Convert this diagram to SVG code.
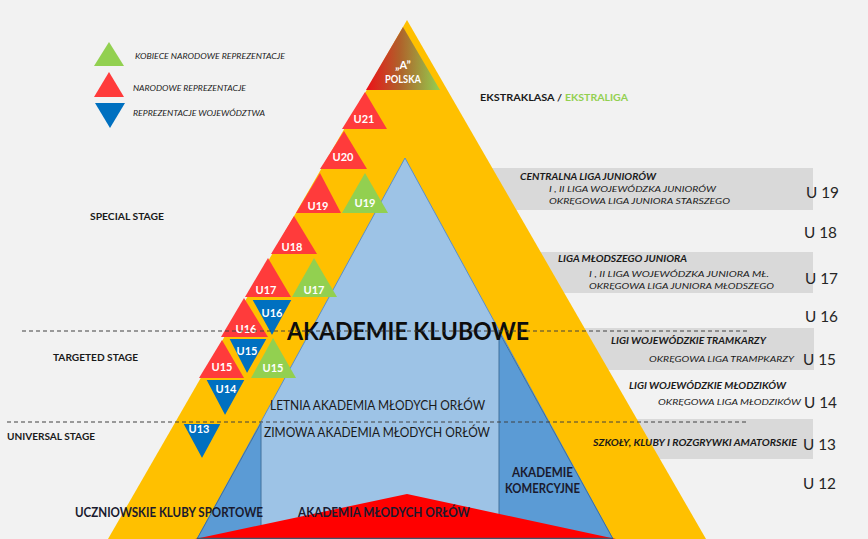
<svg xmlns="http://www.w3.org/2000/svg" width="868" height="539" viewBox="0 0 868 539">
<defs>
<linearGradient id="gA" x1="0" y1="0" x2="1" y2="0">
<stop offset="0" stop-color="#ee1018"/>
<stop offset="0.45" stop-color="#b0602a"/>
<stop offset="1" stop-color="#92d050"/>
</linearGradient>
<style>
text{font-family:Lato,"Liberation Sans",Arial,sans-serif}
.tl{font-weight:bold;fill:#ffffff;font-size:11px;text-anchor:middle}
.red{fill:#ff3b3b}
.grn{fill:#92d050}
.blu{fill:#0070c0;stroke:#ffc000;stroke-width:2;stroke-linejoin:miter}
.band{fill:#d9d9d9}
.rt{font-size:8.5px;font-style:italic;fill:#1a1a1a}
.rb{font-weight:bold}
.u{font-size:15px;fill:#262626}
.stage{font-size:10px;font-weight:bold;fill:#1a1a1a}
.leg{font-size:7.5px;font-style:italic;fill:#1a1a1a}
.mid{font-size:12.5px;fill:#1a1a1a}
.midb{font-size:12.5px;font-weight:bold;fill:#1a1a2e}
.dash{stroke:#404040;stroke-width:1;stroke-dasharray:4 3;fill:none}
</style>
</defs>
<rect width="868" height="539" fill="#f2f2f2"/>

<g id="bands">
<rect class="band" x="470" y="168" width="343" height="42"/>
<rect class="band" x="470" y="252" width="343" height="41"/>
<rect class="band" x="470" y="328" width="344" height="42"/>
<rect class="band" x="470" y="419" width="343" height="40"/>
</g>

<g id="pyramid">
<polygon points="407,20 108,539 706,539" fill="#ffc000"/>
<polygon points="405,158 197,539 613,539" fill="#9dc3e6" stroke="#5b8fc7" stroke-width="1"/>
<polygon points="261,423 261,539 197,539" fill="#5b9bd5" stroke="#41719c" stroke-width="1"/>
<polygon points="499,332 499,539 613,539" fill="#5b9bd5" stroke="#41719c" stroke-width="1"/>
<polygon points="407,494 195,539 616,539" fill="#ff0000"/>
<line x1="197" y1="538.5" x2="613" y2="538.5" stroke="#44546a" stroke-width="1.5"/>
</g>

<g id="node-a-polska">
<polygon points="403,27 366,90 440,90" fill="url(#gA)"/>
<text class="tl" x="403" y="69" font-size="10">„A”</text>
<text class="tl" x="403" y="83" font-size="10" textLength="36" lengthAdjust="spacingAndGlyphs">POLSKA</text>
</g>

<g id="node-u21"><polygon class="red" points="365,92 342,129 387,129"/><text class="tl" x="364" y="123">U21</text></g>
<g id="node-u20"><polygon class="red" points="344,131 320,169 367,169"/><text class="tl" x="343" y="161">U20</text></g>
<g id="node-u19r"><polygon class="red" points="320,173 296,213 341,213"/><text class="tl" x="318" y="210">U19</text></g>
<g id="node-u19g"><polygon class="grn" points="365,173 342,213 388,213"/><text class="tl" x="365" y="207">U19</text></g>
<g id="node-u18"><polygon class="red" points="294,216 271,254 317,254"/><text class="tl" x="292" y="251">U18</text></g>
<g id="node-u17r"><polygon class="red" points="268,258 245,297 291,297"/><text class="tl" x="266" y="294">U17</text></g>
<g id="node-u17g"><polygon class="grn" points="314,258 292,297 337,297"/><text class="tl" x="314" y="294">U17</text></g>
<g id="node-u16r"><polygon class="red" points="244,298 221,337 268,337"/><text class="tl" x="246" y="333">U16</text></g>
<g id="node-u16b"><polygon class="blu" points="251,299 293,299 272,337"/><text class="tl" x="272" y="317">U16</text></g>
<g id="node-u15r"><polygon class="red" points="222,340 199,378 244,378"/><text class="tl" x="222" y="371">U15</text></g>
<g id="node-u15g"><polygon class="grn" points="273,338 251,378 296,378"/><text class="tl" x="273" y="372">U15</text></g>
<g id="node-u15b"><polygon class="blu" points="228,338 268,338 247,375"/><text class="tl" x="247" y="355">U15</text></g>
<g id="node-u14"><polygon class="blu" points="205,379 246,379 225,417"/><text class="tl" x="226" y="393">U14</text></g>
<g id="node-u13"><polygon class="blu" points="182,423 222,423 202,460" stroke="none"/><text class="tl" x="199" y="433">U13</text></g>

<g id="legend">
<polygon class="grn" points="109,42 94,66 124,66"/>
<polygon class="red" points="109,72 94,97 124,97"/>
<polygon points="95,103 125,103 110,128" fill="#0070c0"/>
<text class="leg" x="135" y="59" textLength="150" lengthAdjust="spacingAndGlyphs">KOBIECE NARODOWE REPREZENTACJE</text>
<text class="leg" x="133" y="91" textLength="113" lengthAdjust="spacingAndGlyphs">NARODOWE REPREZENTACJE</text>
<text class="leg" x="133" y="116" textLength="132" lengthAdjust="spacingAndGlyphs">REPREZENTACJE WOJEWÓDZTWA</text>
</g>

<g id="stages">
<text class="stage" x="90" y="220" textLength="74" lengthAdjust="spacingAndGlyphs">SPECIAL STAGE</text>
<text class="stage" x="53" y="361" textLength="85" lengthAdjust="spacingAndGlyphs">TARGETED STAGE</text>
<text class="stage" x="7" y="440" textLength="88" lengthAdjust="spacingAndGlyphs">UNIVERSAL STAGE</text>
</g>

<g id="academies">
<text x="287" y="340" font-size="24" font-weight="bold" fill="#0d0d0d" textLength="242" lengthAdjust="spacingAndGlyphs">AKADEMIE KLUBOWE</text>
<text class="mid" x="270" y="409.5" textLength="215" lengthAdjust="spacingAndGlyphs">LETNIA AKADEMIA MŁODYCH ORŁÓW</text>
<text class="mid" x="264" y="436.5" textLength="226" lengthAdjust="spacingAndGlyphs">ZIMOWA AKADEMIA MŁODYCH ORŁÓW</text>
<text class="midb" x="512" y="476.5" textLength="61" lengthAdjust="spacingAndGlyphs">AKADEMIE</text>
<text class="midb" x="505" y="492.5" textLength="75" lengthAdjust="spacingAndGlyphs">KOMERCYJNE</text>
<text class="midb" x="298" y="516.5" textLength="172" lengthAdjust="spacingAndGlyphs">AKADEMIA MŁODYCH ORŁÓW</text>
<text class="midb" x="75" y="516.5" fill="#1a1a1a" textLength="188" lengthAdjust="spacingAndGlyphs">UCZNIOWSKIE KLUBY SPORTOWE</text>
</g>

<g id="leagues">
<text x="480" y="101" font-size="10" font-weight="bold" fill="#1a1a1a" textLength="82" lengthAdjust="spacingAndGlyphs">EKSTRAKLASA /</text>
<text x="565" y="101" font-size="10" font-weight="bold" fill="#92d050" textLength="63" lengthAdjust="spacingAndGlyphs">EKSTRALIGA</text>
<text class="rt rb" x="520" y="180" textLength="136" lengthAdjust="spacingAndGlyphs">CENTRALNA LIGA JUNIORÓW</text>
<text class="rt" x="549" y="192" textLength="167" lengthAdjust="spacingAndGlyphs">I , II LIGA WOJEWÓDZKA JUNIORÓW</text>
<text class="rt" x="549" y="203.5" textLength="181" lengthAdjust="spacingAndGlyphs">OKRĘGOWA LIGA JUNIORA STARSZEGO</text>
<text class="rt rb" x="558" y="262" textLength="129" lengthAdjust="spacingAndGlyphs">LIGA MŁODSZEGO JUNIORA</text>
<text class="rt" x="589" y="277" textLength="180" lengthAdjust="spacingAndGlyphs">I  , II LIGA WOJEWÓDZKA JUNIORA MŁ.</text>
<text class="rt" x="589" y="289" textLength="185" lengthAdjust="spacingAndGlyphs">OKRĘGOWA LIGA JUNIORA MŁODSZEGO</text>
<text class="rt rb" x="611" y="344" textLength="155" lengthAdjust="spacingAndGlyphs">LIGI WOJEWÓDZKIE TRAMKARZY</text>
<text class="rt" x="649" y="362" textLength="145" lengthAdjust="spacingAndGlyphs">OKRĘGOWA LIGA TRAMPKARZY</text>
<text class="rt rb" x="629" y="389" textLength="157" lengthAdjust="spacingAndGlyphs">LIGI WOJEWÓDZKIE MŁODZIKÓW</text>
<text class="rt" x="658" y="405" textLength="143" lengthAdjust="spacingAndGlyphs">OKRĘGOWA LIGA MŁODZIKÓW</text>
<text class="rt rb" x="593" y="446" textLength="204" lengthAdjust="spacingAndGlyphs">SZKOŁY, KLUBY I ROZGRYWKI AMATORSKIE</text>
</g>

<g id="ages">
<text class="u" x="806" y="197.5" textLength="33" lengthAdjust="spacingAndGlyphs">U 19</text>
<text class="u" x="804" y="237.5" textLength="33" lengthAdjust="spacingAndGlyphs">U 18</text>
<text class="u" x="805" y="283.5" textLength="33" lengthAdjust="spacingAndGlyphs">U 17</text>
<text class="u" x="805" y="321.5" textLength="33" lengthAdjust="spacingAndGlyphs">U 16</text>
<text class="u" x="803" y="364.5" textLength="33" lengthAdjust="spacingAndGlyphs">U 15</text>
<text class="u" x="804" y="407.5" textLength="33" lengthAdjust="spacingAndGlyphs">U 14</text>
<text class="u" x="803" y="449.5" textLength="33" lengthAdjust="spacingAndGlyphs">U 13</text>
<text class="u" x="803" y="488.5" textLength="33" lengthAdjust="spacingAndGlyphs">U 12</text>
</g>

<g id="connectors">
<line class="dash" x1="22" y1="331" x2="747" y2="331"/>
<line class="dash" x1="7" y1="422" x2="747" y2="422"/>
</g>
</svg>
